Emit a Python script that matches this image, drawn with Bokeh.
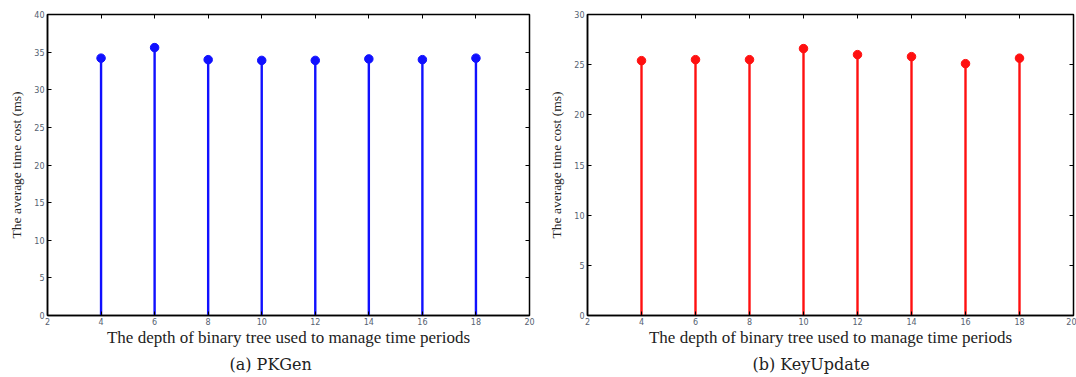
from bokeh.plotting import figure
from bokeh.layouts import row
from bokeh.models import LinearAxis, Range1d, FixedTicker, Title, CustomJSTickFormatter
from bokeh.embed import file_html
from bokeh.resources import INLINE

depth = [4, 6, 8, 10, 12, 14, 16, 18]
pkgen = [34.2, 35.6, 34.0, 33.9, 33.9, 34.1, 34.0, 34.2]
keyupdate = [25.4, 25.5, 25.5, 26.6, 26.0, 25.8, 25.1, 25.65]
x_ticks = [2, 4, 6, 8, 10, 12, 14, 16, 18, 20]
y_ticks_a = [0, 5, 10, 15, 20, 25, 30, 35, 40]
y_ticks_b = [0, 5, 10, 15, 20, 25, 30]
xlabel = "The depth of binary tree used to manage time periods"
ylabel = "The average time cost (ms)"
SERIF = "Liberation Serif"


def panel(vals, ymax, yticks, color, caption, width, bl, br, cap_offset):
    p = figure(width=width, height=377, output_backend="svg", toolbar_location=None,
               x_range=Range1d(2, 20), y_range=Range1d(0, ymax),
               min_border_left=bl, min_border_right=br, min_border_top=14, min_border_bottom=62)
    p.grid.visible = False
    p.outline_line_color = "black"
    p.outline_line_width = 1.5
    p.background_fill_color = "white"
    p.border_fill_color = "white"
    for ax, tk in ((p.xaxis[0], x_ticks), (p.yaxis[0], yticks)):
        ax.ticker = FixedTicker(ticks=tk)
        ax.major_tick_in = 4
        ax.major_tick_out = 0
        ax.minor_tick_line_color = None
        ax.axis_line_color = "black"
        ax.axis_line_width = 1.5
        ax.major_tick_line_color = "black"
        ax.major_label_text_font_size = "8px"
        ax.major_label_text_color = "#556070"
        ax.major_label_text_font = "DejaVu Sans"
        ax.axis_label_text_font = SERIF
        ax.axis_label_text_font_style = "normal"
        ax.axis_label_text_color = "#222222"
    p.xaxis.axis_label = xlabel
    p.xaxis.axis_label_text_font_size = "17px"
    p.xaxis.major_label_standoff = 2
    p.xaxis.axis_label_standoff = 0
    p.yaxis.axis_label = ylabel
    p.yaxis.axis_label_text_font_size = "13.5px"
    p.yaxis.major_label_standoff = 3
    p.yaxis.axis_label_standoff = 7
    blank = CustomJSTickFormatter(code="return ''")
    r = LinearAxis(ticker=FixedTicker(ticks=yticks), formatter=blank,
                   major_tick_in=4, major_tick_out=0, minor_tick_line_color=None,
                   axis_line_color=None, major_label_standoff=0)
    t = LinearAxis(ticker=FixedTicker(ticks=x_ticks), formatter=blank,
                   major_tick_in=4, major_tick_out=0, minor_tick_line_color=None,
                   axis_line_color=None, major_label_standoff=0)
    p.add_layout(r, "right")
    p.add_layout(t, "above")
    p.segment(x0=depth, y0=[0] * len(depth), x1=depth, y1=vals, line_color=color, line_width=2.4)
    p.scatter(depth, vals, size=8.5, color=color)
    p.add_layout(Title(text=caption, text_font="DejaVu Serif", text_font_size="16px",
                       text_font_style="normal", align="left", offset=cap_offset,
                       standoff=6, text_color="#222222"), "below")
    return p


pa = panel(pkgen, 40, y_ticks_a, "#1010ff", "(a) PKGen", 540, 47, 11, 182)
pb = panel(keyupdate, 30, y_ticks_b, "#ff1010", "(b) KeyUpdate", 536, 47, 3, 165)
layout = row(pa, pb)
open("out.html", "w").write(file_html(layout, INLINE))
